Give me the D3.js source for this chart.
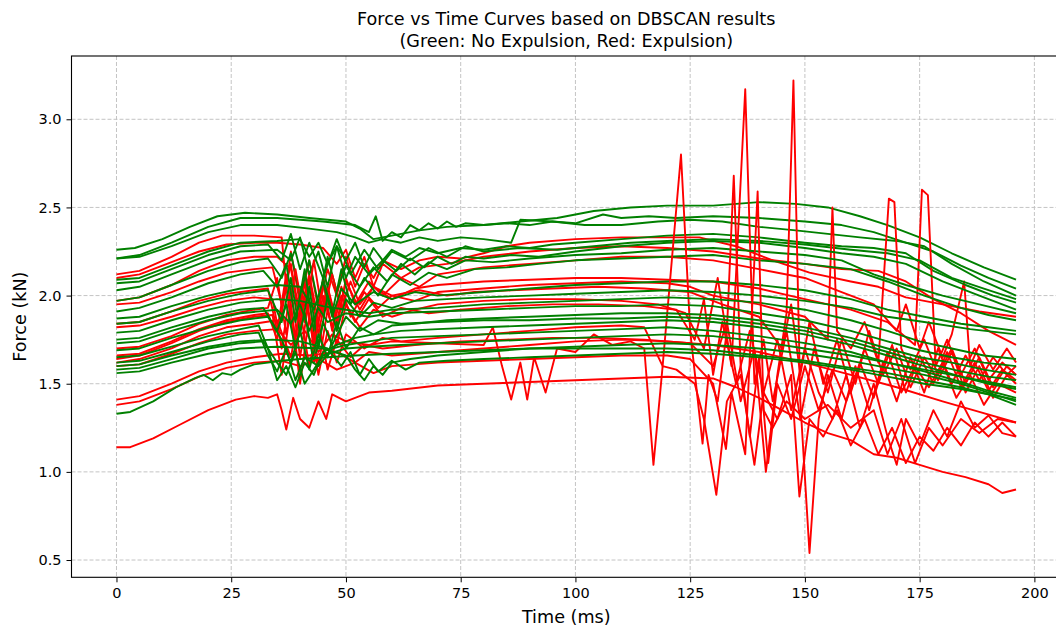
<!DOCTYPE html>
<html>
<head>
<meta charset="utf-8">
<script src="https://cdn.jsdelivr.net/npm/d3@7"></script>
<style>
  body { margin: 0; background: #fff; }
  text { font-family: "DejaVu Sans", sans-serif; fill: #000; }
</style>
</head>
<body>
<script>
var width = 1056
var height = 628

var titleLines = ["Force vs Time Curves based on DBSCAN results", "(Green: No Expulsion, Red: Expulsion)"]
var xTicks = [0, 25, 50, 75, 100, 125, 150, 175, 200]
var yTicks = [0.5, 1.0, 1.5, 2.0, 2.5, 3.0]

// green = no expulsion, [time ms, force kN]
var greenCurves = [
  [[0,2.26],[4,2.27],[10,2.32],[16,2.39],[22,2.45],[28,2.47],[35,2.46],[42,2.44],[50,2.42],[53,2.38],[56,2.32],[60,2.34],[66,2.37],[72,2.39],[80,2.40],[88,2.42],[96,2.44],[104,2.48],[112,2.50],[120,2.51],[130,2.51],[140,2.53],[148,2.52],[155,2.50],[162,2.45],[168,2.40],[175,2.33],[182,2.24],[189,2.16],[196,2.09]],
  [[0,2.21],[5,2.23],[12,2.30],[20,2.39],[27,2.44],[35,2.44],[45,2.42],[52,2.40],[55,2.36],[56.5,2.45],[58,2.31],[60,2.36],[62,2.33],[64,2.40],[66,2.37],[68,2.41],[70,2.38],[72,2.42],[74,2.39],[76,2.41],[80,2.40],[85,2.41],[90,2.40],[95,2.42],[100,2.41],[106,2.46],[110,2.44],[116,2.45],[122,2.44],[130,2.45],[140,2.44],[150,2.42],[158,2.40],[165,2.36],[172,2.30],[178,2.25],[184,2.17],[190,2.10],[196,2.04]],
  [[0,2.21],[5,2.22],[12,2.28],[20,2.36],[27,2.40],[35,2.40],[42,2.38],[48,2.36],[52,2.33],[55,2.30],[58,2.32],[62,2.30],[66,2.33],[70,2.31],[75,2.33],[80,2.32],[86,2.30],[88,2.43],[95,2.42],[102,2.40],[110,2.40],[118,2.42],[125,2.43],[132,2.42],[140,2.39],[148,2.37],[155,2.35],[162,2.33],[170,2.31],[176,2.28],[182,2.18],[189,2.08],[196,2.00]],
  [[0,2.09],[5,2.10],[12,2.17],[20,2.25],[27,2.30],[35,2.31],[40,2.32],[42,2.22],[44,2.30],[46,2.18],[48,2.28],[50,2.20],[52,2.30],[54,2.16],[56,2.27],[58,2.20],[60,2.26],[63,2.22],[66,2.27],[70,2.24],[75,2.27],[80,2.26],[85,2.28],[90,2.27],[95,2.29],[100,2.30],[110,2.32],[120,2.34],[130,2.35],[140,2.33],[150,2.30],[158,2.28],[165,2.27],[172,2.24],[178,2.14],[185,2.06],[191,2.00],[196,1.96]],
  [[0,2.07],[5,2.08],[12,2.15],[20,2.23],[27,2.28],[33,2.29],[36,2.20],[38,2.35],[40,2.15],[42,2.30],[45,2.10],[48,2.32],[51,2.12],[54,2.26],[57,2.15],[60,2.25],[64,2.20],[68,2.27],[72,2.22],[76,2.28],[80,2.25],[88,2.27],[96,2.26],[104,2.28],[112,2.30],[120,2.31],[130,2.32],[140,2.31],[150,2.29],[160,2.26],[168,2.24],[175,2.20],[182,2.10],[189,2.04],[196,1.98]],
  [[0,2.03],[5,2.05],[12,2.12],[20,2.20],[27,2.25],[35,2.26],[38,2.20],[40,2.33],[42,2.12],[44,2.25],[46,2.05],[48,2.28],[50,2.10],[52,2.22],[55,2.12],[58,2.20],[61,2.14],[64,2.21],[67,2.16],[70,2.22],[73,2.18],[76,2.22],[80,2.21],[86,2.23],[92,2.22],[100,2.25],[110,2.28],[120,2.30],[130,2.31],[140,2.30],[150,2.27],[158,2.24],[165,2.22],[172,2.18],[180,2.08],[188,2.00],[196,1.92]],
  [[0,1.97],[5,1.99],[12,2.06],[20,2.14],[27,2.19],[33,2.21],[36,2.10],[38,2.24],[40,2.00],[42,2.20],[44,1.95],[46,2.22],[48,2.02],[50,2.17],[53,2.05],[56,2.16],[59,2.08],[62,2.18],[65,2.12],[68,2.19],[72,2.15],[76,2.20],[82,2.19],[90,2.21],[100,2.23],[110,2.24],[120,2.26],[130,2.27],[140,2.25],[150,2.23],[158,2.20],[165,2.12],[172,2.06],[180,2.00],[188,1.95],[196,1.90]],
  [[0,1.91],[5,1.93],[12,1.99],[20,2.07],[27,2.12],[32,2.14],[35,2.05],[37,2.18],[39,1.85],[41,2.15],[43,1.80],[45,2.10],[47,1.90],[49,2.15],[51,1.95],[54,2.10],[57,2.00],[60,2.12],[64,2.06],[68,2.13],[72,2.10],[78,2.15],[85,2.16],[92,2.18],[100,2.20],[110,2.21],[120,2.22],[130,2.23],[140,2.20],[150,2.18],[160,2.15],[168,2.08],[176,2.00],[184,1.93],[190,1.89],[196,1.86]],
  [[0,1.87],[5,1.88],[12,1.94],[20,2.00],[27,2.04],[35,2.06],[40,2.05],[43,1.92],[45,2.08],[47,1.88],[49,2.04],[52,1.95],[56,2.02],[60,1.98],[65,2.02],[70,2.00],[80,2.02],[90,2.04],[100,2.06],[110,2.07],[120,2.08],[130,2.08],[140,2.06],[150,2.03],[160,1.98],[168,1.92],[176,1.88],[184,1.84],[190,1.82],[196,1.80]],
  [[0,1.84],[5,1.85],[12,1.91],[20,1.97],[27,2.01],[33,2.03],[36,1.85],[38,2.10],[40,1.78],[42,2.05],[44,1.70],[46,2.00],[48,1.80],[50,1.98],[53,1.88],[56,1.96],[60,1.93],[65,1.97],[72,1.98],[80,1.99],[90,2.00],[100,2.01],[110,2.02],[120,2.03],[130,2.02],[140,2.00],[150,1.97],[160,1.93],[168,1.88],[176,1.85],[186,1.81],[196,1.78]],
  [[0,1.79],[5,1.80],[12,1.86],[20,1.92],[27,1.96],[35,1.98],[40,1.97],[45,1.94],[50,1.92],[55,1.90],[60,1.92],[70,1.93],[80,1.95],[90,1.96],[100,1.97],[110,1.98],[120,1.99],[130,1.98],[140,1.96],[150,1.92],[160,1.86],[168,1.80],[175,1.74],[182,1.70],[189,1.66],[196,1.64]],
  [[0,1.75],[5,1.76],[12,1.82],[20,1.88],[27,1.92],[32,1.93],[35,1.80],[37,1.95],[39,1.70],[41,1.90],[43,1.62],[45,1.85],[47,1.72],[50,1.88],[53,1.80],[57,1.86],[62,1.84],[70,1.85],[80,1.86],[90,1.86],[100,1.87],[110,1.87],[120,1.88],[130,1.87],[140,1.84],[150,1.80],[160,1.74],[168,1.68],[176,1.62],[184,1.57],[190,1.54],[196,1.52]],
  [[0,1.73],[5,1.74],[12,1.80],[20,1.86],[27,1.90],[35,1.92],[38,1.84],[40,1.95],[42,1.80],[44,1.93],[46,1.85],[50,1.90],[55,1.88],[60,1.90],[70,1.91],[80,1.92],[90,1.93],[100,1.94],[110,1.94],[120,1.95],[130,1.94],[140,1.90],[150,1.86],[160,1.80],[168,1.74],[175,1.69],[182,1.65],[189,1.62],[196,1.60]],
  [[0,1.69],[5,1.70],[12,1.76],[20,1.82],[27,1.86],[33,1.88],[36,1.75],[38,1.62],[40,1.80],[42,1.58],[44,1.78],[46,1.65],[48,1.85],[50,1.70],[53,1.82],[56,1.78],[60,1.83],[65,1.84],[72,1.86],[80,1.87],[90,1.88],[100,1.89],[110,1.90],[120,1.90],[130,1.89],[140,1.86],[150,1.82],[160,1.76],[168,1.70],[175,1.65],[182,1.62],[189,1.58],[196,1.55]],
  [[0,1.65],[5,1.66],[12,1.71],[20,1.77],[27,1.81],[31,1.83],[33,1.70],[35,1.52],[37,1.60],[39,1.48],[41,1.62],[43,1.55],[45,1.68],[48,1.72],[52,1.76],[56,1.78],[62,1.80],[70,1.81],[80,1.82],[90,1.83],[100,1.84],[110,1.85],[120,1.86],[130,1.85],[140,1.82],[150,1.78],[160,1.72],[168,1.66],[176,1.60],[184,1.54],[190,1.50],[196,1.47]],
  [[0,1.62],[5,1.63],[12,1.68],[20,1.74],[27,1.78],[31,1.79],[33,1.66],[35,1.57],[37,1.70],[39,1.52],[41,1.65],[44,1.60],[47,1.70],[50,1.72],[55,1.74],[60,1.76],[70,1.77],[80,1.78],[90,1.79],[100,1.80],[110,1.81],[120,1.82],[130,1.80],[140,1.77],[150,1.73],[160,1.68],[168,1.62],[176,1.57],[184,1.51],[190,1.46],[196,1.42]],
  [[0,1.60],[5,1.61],[12,1.66],[20,1.71],[27,1.74],[34,1.75],[40,1.74],[46,1.70],[49,1.60],[51,1.68],[53,1.55],[55,1.64],[57,1.57],[60,1.63],[63,1.58],[66,1.62],[72,1.63],[80,1.64],[90,1.65],[100,1.66],[110,1.67],[120,1.68],[130,1.67],[140,1.65],[150,1.62],[160,1.58],[168,1.54],[176,1.50],[184,1.47],[190,1.44],[196,1.41]],
  [[0,1.58],[5,1.59],[12,1.64],[20,1.70],[27,1.73],[32,1.74],[35,1.62],[37,1.55],[39,1.68],[41,1.50],[43,1.58],[45,1.66],[50,1.70],[55,1.71],[62,1.72],[70,1.73],[80,1.74],[90,1.75],[100,1.76],[110,1.77],[120,1.78],[130,1.77],[140,1.74],[150,1.70],[160,1.66],[168,1.62],[176,1.58],[184,1.54],[190,1.51],[196,1.48]],
  [[0,1.56],[5,1.57],[12,1.62],[20,1.67],[27,1.70],[35,1.71],[45,1.70],[50,1.66],[52,1.58],[54,1.52],[56,1.60],[58,1.55],[60,1.62],[64,1.64],[70,1.66],[80,1.68],[90,1.70],[100,1.71],[110,1.72],[120,1.73],[130,1.72],[140,1.70],[150,1.67],[160,1.63],[168,1.59],[176,1.55],[184,1.50],[190,1.45],[196,1.40]],
  [[0,1.33],[3,1.34],[8,1.40],[13,1.48],[17,1.53],[19,1.55],[21,1.52],[23,1.56],[25,1.55],[27,1.58],[30,1.61],[33,1.62],[36,1.63],[40,1.64],[46,1.65],[52,1.66],[60,1.67],[70,1.68],[80,1.69],[90,1.70],[100,1.70],[110,1.70],[120,1.70],[130,1.69],[140,1.66],[150,1.63],[160,1.59],[168,1.56],[176,1.52],[184,1.48],[190,1.44],[196,1.38]]
]

// red = expulsion, [time ms, force kN]
var redCurves = [
  [[0,2.12],[5,2.14],[12,2.22],[18,2.30],[23,2.34],[30,2.34],[36,2.33],[37,2.05],[38,2.25],[40,1.95],[42,2.20],[44,1.92],[46,2.15],[48,2.00],[50,2.22],[52,2.05],[54,2.18],[56,2.10],[58,2.20],[62,2.15],[66,2.20],[70,2.22],[75,2.21],[80,2.24],[85,2.28],[90,2.30],[100,2.32],[110,2.33],[120,2.33],[127,2.33],[135,2.28],[143,2.20],[151,2.13],[160,2.08],[166,2.05],[172,1.99],[180,1.95],[188,1.91],[196,1.88]],
  [[0,2.10],[5,2.12],[12,2.19],[18,2.25],[24,2.29],[30,2.30],[35,2.30],[40,2.29],[45,2.27],[48,2.18],[50,2.26],[52,2.10],[54,2.22],[56,2.05],[58,2.18],[62,2.10],[66,2.16],[72,2.18],[80,2.22],[90,2.25],[100,2.27],[110,2.28],[120,2.27],[130,2.25],[140,2.21],[150,2.18],[158,2.15],[166,2.14],[172,2.08],[178,1.98],[184,1.90],[190,1.80],[196,1.72]],
  [[0,1.97],[5,1.99],[12,2.06],[18,2.14],[24,2.20],[30,2.22],[35,2.22],[38,2.15],[40,1.90],[42,2.12],[44,1.85],[46,2.05],[48,1.80],[50,2.10],[52,1.95],[55,2.08],[58,2.00],[62,2.10],[66,2.05],[70,2.12],[75,2.14],[80,2.16],[90,2.18],[100,2.20],[110,2.22],[120,2.22],[130,2.20],[140,2.15],[150,2.10],[158,2.02],[165,1.95],[170,1.80],[172,1.95],[175,1.70],[177,1.85],[180,1.65],[182,1.78],[184.7,2.08],[186,1.60],[188,1.72],[191,1.58],[194,1.70],[196,1.62]],
  [[0,1.95],[5,1.96],[12,2.02],[18,2.08],[24,2.13],[30,2.15],[34,2.16],[36,1.95],[38,2.18],[40,1.82],[42,2.10],[44,1.78],[46,2.05],[48,1.85],[50,2.08],[53,1.92],[56,2.05],[60,1.98],[65,2.04],[70,2.06],[80,2.08],[90,2.09],[100,2.10],[110,2.10],[120,2.09],[130,2.08],[140,2.04],[150,1.98],[160,1.92],[168,1.85],[174,1.72],[175.5,2.60],[176.8,2.57],[178.5,1.60],[181,1.75],[184,1.55],[187,1.70],[190,1.52],[193,1.62],[196,1.55]],
  [[0,1.84],[5,1.85],[12,1.91],[18,1.97],[24,2.01],[30,2.03],[33,2.04],[35,1.80],[37,2.12],[39,1.75],[41,2.08],[43,1.70],[45,2.00],[47,1.82],[49,2.05],[51,1.88],[54,2.02],[57,1.93],[60,2.00],[65,1.97],[70,2.02],[80,2.04],[90,2.06],[100,2.07],[110,2.08],[120,2.07],[125,2.05],[130,2.00],[140,1.95],[150,1.88],[155,1.75],[156,2.50],[157,1.80],[160,1.70],[163,1.85],[166,1.62],[168.3,2.55],[169.5,2.53],[171,1.70],[173,1.58],[176,1.75],[179,1.55],[182,1.70],[185,1.50],[188,1.65],[191,1.48],[194,1.60],[196,1.55]],
  [[0,1.82],[5,1.83],[12,1.88],[18,1.93],[24,1.97],[30,1.99],[34,1.98],[36,1.70],[38,2.05],[40,1.65],[42,1.98],[44,1.60],[46,1.92],[48,1.72],[50,1.95],[53,1.82],[56,1.92],[60,1.88],[65,1.92],[70,1.95],[80,1.97],[90,1.98],[100,1.98],[110,1.97],[118,1.95],[124,1.90],[128,1.70],[131,2.10],[134,1.60],[137,3.17],[139,1.50],[141,1.75],[143,1.40],[146,1.80],[149,1.30],[152,1.70],[155,1.45],[158,1.75],[161,1.50],[164,1.80],[167,1.55],[170,1.70],[173,1.48],[176,1.65],[179,1.52],[182,1.68],[185,1.45],[188,1.60],[191,1.42],[194,1.55],[196,1.50]],
  [[0,1.70],[5,1.71],[12,1.77],[18,1.84],[24,1.89],[30,1.92],[33,1.93],[35,2.10],[37,1.78],[39,2.15],[41,1.85],[43,2.20],[45,1.88],[47,2.12],[49,1.92],[51,2.08],[53,1.95],[56,2.05],[60,2.00],[66,2.03],[72,2.00],[78,2.02],[86,2.03],[95,2.04],[105,2.05],[115,2.04],[125,2.02],[132,1.95],[140,1.88],[145,1.70],[147,1.95],[149,1.55],[151,1.85],[154,1.50],[157,1.75],[160,1.45],[163,1.70],[166,1.50],[169,1.72],[172,1.45],[175,1.66],[178,1.50],[181,1.68],[184,1.48],[187,1.62],[190,1.46],[193,1.58],[196,1.52]],
  [[0,1.66],[5,1.67],[12,1.74],[18,1.81],[24,1.86],[30,1.89],[33,1.90],[35,1.75],[37,2.05],[39,1.68],[41,2.00],[43,1.75],[45,2.08],[47,1.80],[49,2.00],[52,1.85],[55,1.98],[58,1.88],[62,1.93],[68,1.90],[75,1.92],[85,1.94],[95,1.95],[105,1.95],[115,1.94],[122,1.92],[126,1.75],[128,1.98],[130,1.55],[132,1.85],[135,1.50],[138,1.80],[141,1.45],[144,1.75],[147,1.35],[150,1.70],[153,1.45],[156,1.30],[159,1.55],[162,1.25],[165,1.50],[168,1.20],[170,1.04],[172,1.30],[175,1.15],[178,1.35],[181,1.20],[184,1.40],[187,1.25],[190,1.32],[193,1.22],[196,1.20]],
  [[0,1.64],[5,1.66],[12,1.73],[18,1.80],[24,1.85],[30,1.88],[34,1.89],[36,1.55],[38,1.95],[40,1.50],[42,1.88],[44,1.55],[46,1.80],[48,1.62],[50,1.78],[54,1.70],[58,1.76],[62,1.74],[70,1.76],[80,1.78],[90,1.80],[100,1.82],[110,1.83],[115,1.82],[119,1.60],[121,2.20],[123,2.80],[125,1.80],[127.7,1.16],[129,1.55],[131,1.40],[133,1.80],[134.5,2.68],[136,1.60],[138,1.20],[140,1.65],[142,1.05],[144,1.50],[147,1.30],[150,1.60],[153,1.35],[156,1.58],[159,1.40],[162,1.62],[165,1.42],[168,1.68],[171,1.45],[174,1.60],[177,1.48],[180,1.62],[183,1.42],[186,1.55],[189,1.38],[192,1.50],[196,1.45]],
  [[0,1.62],[5,1.64],[12,1.70],[18,1.77],[24,1.82],[30,1.84],[35,1.86],[38,1.65],[40,1.92],[42,1.60],[44,1.85],[46,1.58],[48,1.75],[51,1.65],[54,1.72],[58,1.70],[65,1.72],[75,1.74],[85,1.75],[95,1.76],[105,1.76],[115,1.75],[125,1.73],[130,1.60],[133,1.85],[136,1.40],[139,1.70],[141.5,1.00],[144,1.55],[146,1.90],[147.5,3.22],[149,1.40],[151,0.54],[153,1.30],[155,1.55],[158,1.30],[161,1.60],[164,1.35],[167,1.62],[170,1.40],[173,1.65],[176,1.45],[179,1.70],[182,1.50],[185,1.66],[188,1.52],[191,1.65],[194,1.55],[196,1.60]],
  [[0,1.60],[5,1.61],[12,1.67],[18,1.73],[24,1.78],[30,1.80],[35,1.81],[38,1.72],[41,1.80],[44,1.68],[47,1.78],[50,1.74],[55,1.72],[60,1.74],[70,1.73],[80,1.72],[82,1.82],[84,1.60],[86,1.41],[88,1.62],[89.5,1.41],[91,1.65],[93.5,1.45],[96,1.70],[100,1.68],[104,1.78],[108,1.72],[112,1.74],[115,1.70],[117,1.04],[119,1.60],[122,1.58],[126,1.50],[128,1.30],[130.7,0.87],[133,1.40],[136,1.55],[139,1.04],[141,1.45],[144,1.30],[147,1.55],[148.8,0.86],[151,1.30],[154,1.20],[157,1.35],[160,1.15],[163,1.30],[166,1.10],[169,1.25],[172,1.05],[175,1.20],[178,1.12],[181,1.25],[184,1.15],[187,1.28],[190,1.20],[193,1.28],[196,1.20]],
  [[0,1.41],[5,1.43],[12,1.50],[18,1.57],[24,1.62],[30,1.65],[36,1.67],[42,1.66],[48,1.68],[52,1.62],[55,1.68],[60,1.66],[70,1.68],[80,1.70],[90,1.72],[100,1.74],[110,1.75],[120,1.74],[130,1.72],[140,1.68],[150,1.62],[160,1.55],[170,1.48],[180,1.40],[188,1.34],[196,1.28]],
  [[0,1.38],[5,1.40],[12,1.47],[18,1.54],[24,1.59],[30,1.62],[36,1.63],[40,1.60],[44,1.64],[48,1.58],[52,1.62],[56,1.56],[60,1.60],[70,1.62],[80,1.63],[90,1.64],[100,1.65],[110,1.66],[120,1.66],[125,1.64],[130,1.50],[132.8,1.13],[134,1.45],[137,1.10],[139.7,2.59],[141,1.35],[143,1.25],[146,1.40],[150,1.30],[155,1.38],[160,1.25],[165,1.35],[168,1.10],[171,1.30],[174,1.05],[177,1.25],[180,1.15],[184,1.30],[188,1.22],[192,1.30],[196,1.28]],
  [[0,1.14],[3,1.14],[8,1.19],[14,1.27],[20,1.35],[26,1.41],[30,1.43],[33,1.42],[35,1.44],[36,1.35],[37,1.24],[38.5,1.42],[40,1.30],[42,1.25],[44,1.40],[45.7,1.30],[47,1.44],[50,1.40],[55,1.45],[60,1.46],[70,1.49],[80,1.50],[90,1.51],[100,1.52],[110,1.53],[120,1.54],[130,1.53],[135,1.48],[140,1.42],[145,1.35],[150,1.28],[155,1.22],[160,1.18],[165,1.10],[170,1.08],[175,1.04],[180,1.00],[185,0.97],[190,0.93],[193,0.88],[196,0.90]]
]

var plotL = 71.5, plotR = 1061, plotT = 56, plotB = 577.3

var x = d3.scaleLinear().domain([-9.8, 205.8]).range([plotL, plotR])
var y = d3.scaleLinear().domain([0.402, 3.359]).range([plotB, plotT])

var svg = d3.select("body").append("svg")
    .attr("width", width)
    .attr("height", height)

svg.append("defs").append("clipPath").attr("id", "plot")
  .append("rect")
    .attr("x", plotL).attr("y", plotT)
    .attr("width", plotR - plotL).attr("height", plotB - plotT)

// grid
var grid = svg.append("g")
grid.selectAll(".gx").data(xTicks).enter().append("line")
    .attr("x1", d => x(d)).attr("x2", d => x(d))
    .attr("y1", plotT).attr("y2", plotB)
grid.selectAll(".gy").data(yTicks).enter().append("line")
    .attr("y1", d => y(d)).attr("y2", d => y(d))
    .attr("x1", plotL).attr("x2", plotR)
grid.selectAll("line")
    .attr("stroke", "#c4c4c4")
    .attr("stroke-width", 1)
    .attr("stroke-dasharray", "4,2")

// interleave the two groups so neither sits fully on top
var curves = []
var n = Math.max(greenCurves.length, redCurves.length)
for (var k = 0; k < n; k++) {
  if (k < greenCurves.length) curves.push({ pts: greenCurves[k], color: "#008000" })
  if (k < redCurves.length) curves.push({ pts: redCurves[k], color: "#ff0000" })
}

var line = d3.line().x(d => x(d[0])).y(d => y(d[1]))

svg.append("g").attr("clip-path", "url(#plot)")
  .selectAll("path").data(curves).enter().append("path")
    .attr("d", d => line(d.pts))
    .attr("fill", "none")
    .attr("stroke", d => d.color)
    .attr("stroke-width", 1.9)
    .attr("stroke-linejoin", "round")

// axes
var xAxis = svg.append("g").attr("transform", "translate(0," + plotB + ")")
    .call(d3.axisBottom(x).tickValues(xTicks).tickSize(5).tickPadding(5).tickFormat(d3.format("d")))
var yAxis = svg.append("g").attr("transform", "translate(" + plotL + ",0)")
    .call(d3.axisLeft(y).tickValues(yTicks).tickSize(5).tickPadding(5).tickFormat(d3.format(".1f")))

xAxis.select(".domain").remove()
yAxis.select(".domain").remove()
svg.selectAll(".tick text").attr("font-size", "14.5px").attr("font-family", "DejaVu Sans").attr("fill", "#000")
svg.selectAll(".tick line").attr("stroke", "#000").attr("stroke-width", 1)

// spines
svg.append("rect")
    .attr("x", plotL).attr("y", plotT)
    .attr("width", plotR - plotL).attr("height", plotB - plotT)
    .attr("fill", "none").attr("stroke", "#000").attr("stroke-width", 1.1)

svg.append("text")
    .attr("x", (plotL + plotR) / 2).attr("y", 623)
    .attr("text-anchor", "middle").attr("font-size", "17.6px")
    .text("Time (ms)")

svg.append("text")
    .attr("transform", "translate(26," + (plotT + plotB) / 2 + ") rotate(-90)")
    .attr("text-anchor", "middle").attr("font-size", "17.6px")
    .text("Force (kN)")

svg.selectAll(".title").data(titleLines).enter().append("text")
    .attr("x", (plotL + plotR) / 2)
    .attr("y", (d, i) => 25 + i * 22)
    .attr("text-anchor", "middle").attr("font-size", "17.6px")
    .text(d => d)
</script>
</body>
</html>
